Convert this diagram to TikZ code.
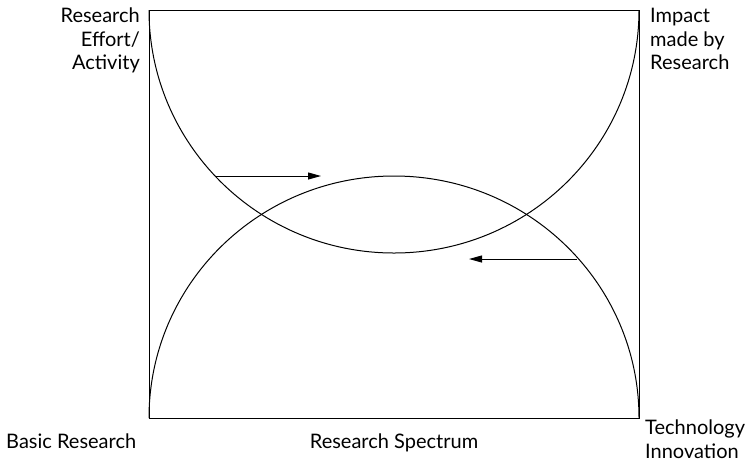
\documentclass[tikz,border=0pt]{standalone}
\usepackage{fontspec}
\setmainfont{Lato}
\usetikzlibrary{arrows.meta}
\begin{document}
\begin{tikzpicture}[x=1pt,y=-1pt,
  lbl/.style={inner sep=0pt,font=\fontsize{20}{23.5}\selectfont},
  curve/.style={line width=1pt},
  arr/.style={line width=1pt,-{Triangle[length=13pt,width=7pt]}}]
\useasboundingbox (0,0) rectangle (752,467);
\draw[line width=1pt] (149,10) rectangle (639,418);
\draw[curve] (149,10) arc[start angle=180,end angle=360,x radius=245,y radius=-243];
\draw[curve] (149,418) arc[start angle=180,end angle=0,x radius=245,y radius=-242];
\coordinate (a1s) at (215,176);
\coordinate (a1e) at (321,176);
\coordinate (a2s) at (577,259);
\coordinate (a2e) at (469,259);
\draw[arr] (a1s) -- (a1e);
\draw[arr] (a2s) -- (a2e);
\node[lbl,anchor=north east,align=right] (ylab) at (140,8) {Research\\Effort/\\Activity};
\node[lbl,anchor=north west,align=left] (impact) at (650,8) {Impact\\made by\\Research};
\node[lbl,anchor=base west] (basic) at (6,448) {Basic Research};
\node[lbl,anchor=base] (spec) at (394,448) {Research Spectrum};
\node[lbl,anchor=north west,align=left] (tech) at (645,420) {Technology\\Innovation};
\end{tikzpicture}
\end{document}
